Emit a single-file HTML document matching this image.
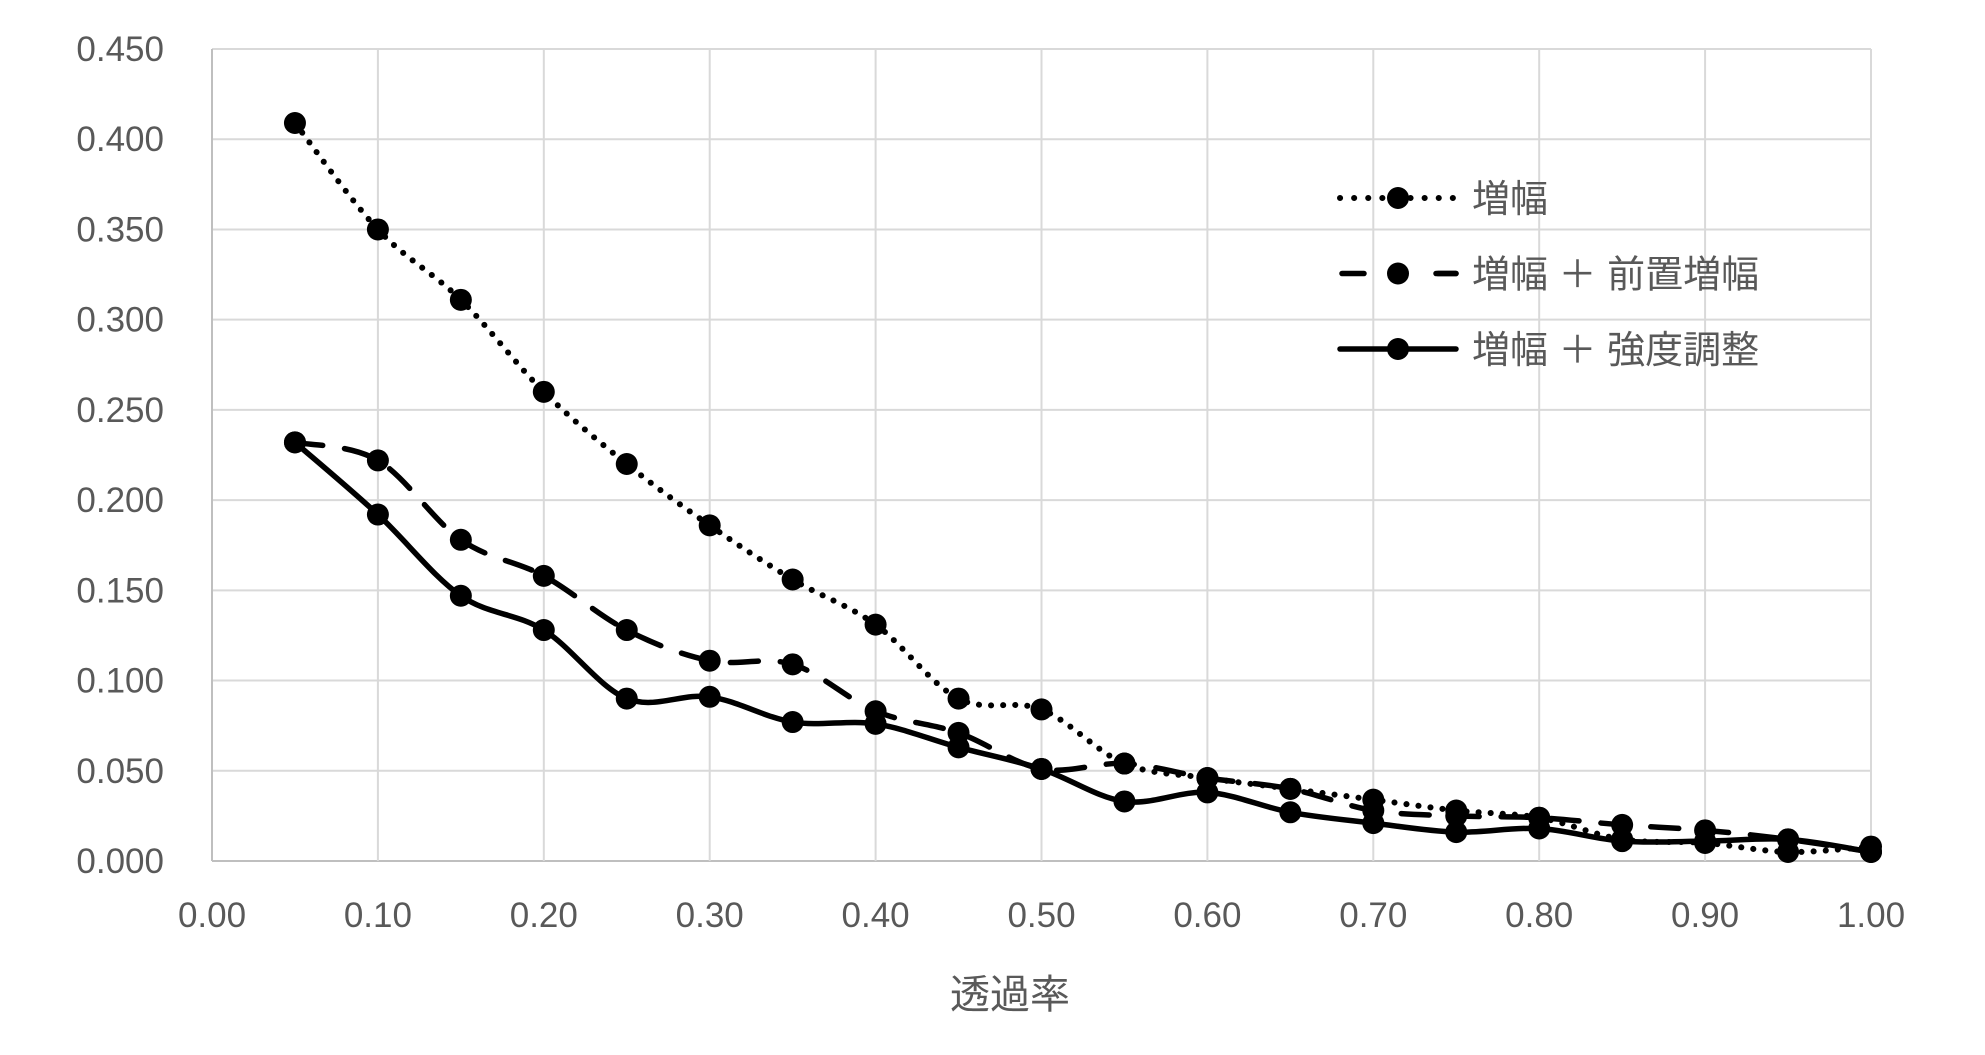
<!DOCTYPE html>
<html><head><meta charset="utf-8"><style>
body{margin:0;background:#fff;}
svg{display:block;font-family:"Liberation Sans","Noto Sans CJK JP",sans-serif;}
</style></head><body>
<svg id="chart" width="1985" height="1055" viewBox="0 0 1985 1055" xmlns="http://www.w3.org/2000/svg">
<g id="grid"></g>
<g id="axes"></g>
<g id="series"></g>
<g id="legend"></g>
</svg>
<script>
const categories=[0.05,0.10,0.15,0.20,0.25,0.30,0.35,0.40,0.45,0.50,0.55,0.60,0.65,0.70,0.75,0.80,0.85,0.90,0.95,1.00];
const seriesAmp=[0.409,0.350,0.311,0.260,0.220,0.186,0.156,0.131,0.090,0.084,0.054,0.046,0.040,0.034,0.028,0.024,0.012,0.010,0.005,0.008];
const seriesPre=[0.232,0.222,0.178,0.158,0.128,0.111,0.109,0.083,0.071,0.051,0.054,0.046,0.040,0.028,0.025,0.024,0.020,0.017,0.012,0.005];
const seriesInt=[0.232,0.192,0.147,0.128,0.090,0.091,0.077,0.076,0.063,0.051,0.033,0.038,0.027,0.021,0.016,0.018,0.011,0.011,0.012,0.005];
const seriesNames=["増幅","増幅 ＋ 前置増幅","増幅 ＋ 強度調整"];
const yTicks=[0,0.05,0.1,0.15,0.2,0.25,0.3,0.35,0.4,0.45];
const xTicks=[0,0.1,0.2,0.3,0.4,0.5,0.6,0.7,0.8,0.9,1.0];
const X0=212,X1=1871,Y0=861,Y1=49;
const sx=v=>X0+(X1-X0)*v/1.0;
const sy=v=>Y0-(Y0-Y1)*v/0.45;
const NS="http://www.w3.org/2000/svg";
function mk(t,a,p){const e=document.createElementNS(NS,t);for(const k in a)e.setAttribute(k,a[k]);p.appendChild(e);return e;}
const grid=document.getElementById('grid'),axes=document.getElementById('axes'),ser=document.getElementById('series'),leg=document.getElementById('legend');
yTicks.forEach((t,i)=>{
 const l=mk('line',{x1:X0,x2:X1,y1:sy(t),y2:sy(t),stroke:i==0?'#bfbfbf':'#d9d9d9','stroke-width':2},grid);
 
 
 const tx=mk('text',{x:164,y:sy(t)+12,'text-anchor':'end','font-size':35,fill:'#595959'},axes);
 tx.textContent=t.toFixed(3);
 
 
});
xTicks.forEach((t,i)=>{
 const l=mk('line',{x1:sx(t),x2:sx(t),y1:Y1,y2:Y0,stroke:i==0?'#bfbfbf':'#d9d9d9','stroke-width':2},grid);
 
 
 const tx=mk('text',{x:sx(t),y:927,'text-anchor':'middle','font-size':35,fill:'#595959'},axes);
 tx.textContent=t.toFixed(2);
 
 
});
const title=mk('text',{x:1010,y:1008,'text-anchor':'middle','font-size':40,fill:'#595959'},axes);
title.textContent="透過率";


function smooth(pts){
 let d=`M${pts[0][0]},${pts[0][1]}`;
 for(let i=0;i<pts.length-1;i++){
  const p0=pts[i-1]||pts[i],p1=pts[i],p2=pts[i+1],p3=pts[i+2]||p2,k=1/6;
  d+=` C${p1[0]+(p2[0]-p0[0])*k},${p1[1]+(p2[1]-p0[1])*k} ${p2[0]-(p3[0]-p1[0])*k},${p2[1]-(p3[1]-p1[1])*k} ${p2[0]},${p2[1]}`;
 }
 return d;
}
const styles=[{dash:'0.1 12',w:6},{dash:'28 22',w:5.5},{dash:'',w:5.5}];
[seriesAmp,seriesPre,seriesInt].forEach((vals,s)=>{
 const g=mk('g',{},ser);
 
 
 const pts=vals.map((v,i)=>[sx(categories[i]),sy(v)]);
 const st=styles[s];
 const p=mk('path',{d:smooth(pts),fill:'none',stroke:'#000','stroke-width':st.w,'stroke-linecap':'round'},g);
 if(st.dash)p.setAttribute('stroke-dasharray',st.dash);
 
 
 pts.forEach(q=>{
  const c=mk('circle',{cx:q[0],cy:q[1],r:11,fill:'#000'},g);
  
  
 });
 const ly=198+s*75.5;
 const g2=mk('g',{},leg);
 
 
 const ll=mk('line',{x1:1340,x2:1456,y1:ly,y2:ly,stroke:'#000','stroke-width':st.w,'stroke-linecap':'round'},g2);
 if(s==0)ll.setAttribute('stroke-dasharray','0.1 14');
 if(s==1){ll.setAttribute('x1',1342);ll.setAttribute('stroke-dasharray','22 74');
  mk('line',{x1:1436,x2:1456,y1:ly,y2:ly,stroke:'#000','stroke-width':st.w,'stroke-linecap':'round'},g2);}
 mk('circle',{cx:1398,cy:ly,r:11,fill:'#000'},g2);
 const t=mk('text',{x:1472,y:ly+14,'font-size':38,fill:'#595959'},g2);
 t.textContent=seriesNames[s];
});
</script>
</body></html>
